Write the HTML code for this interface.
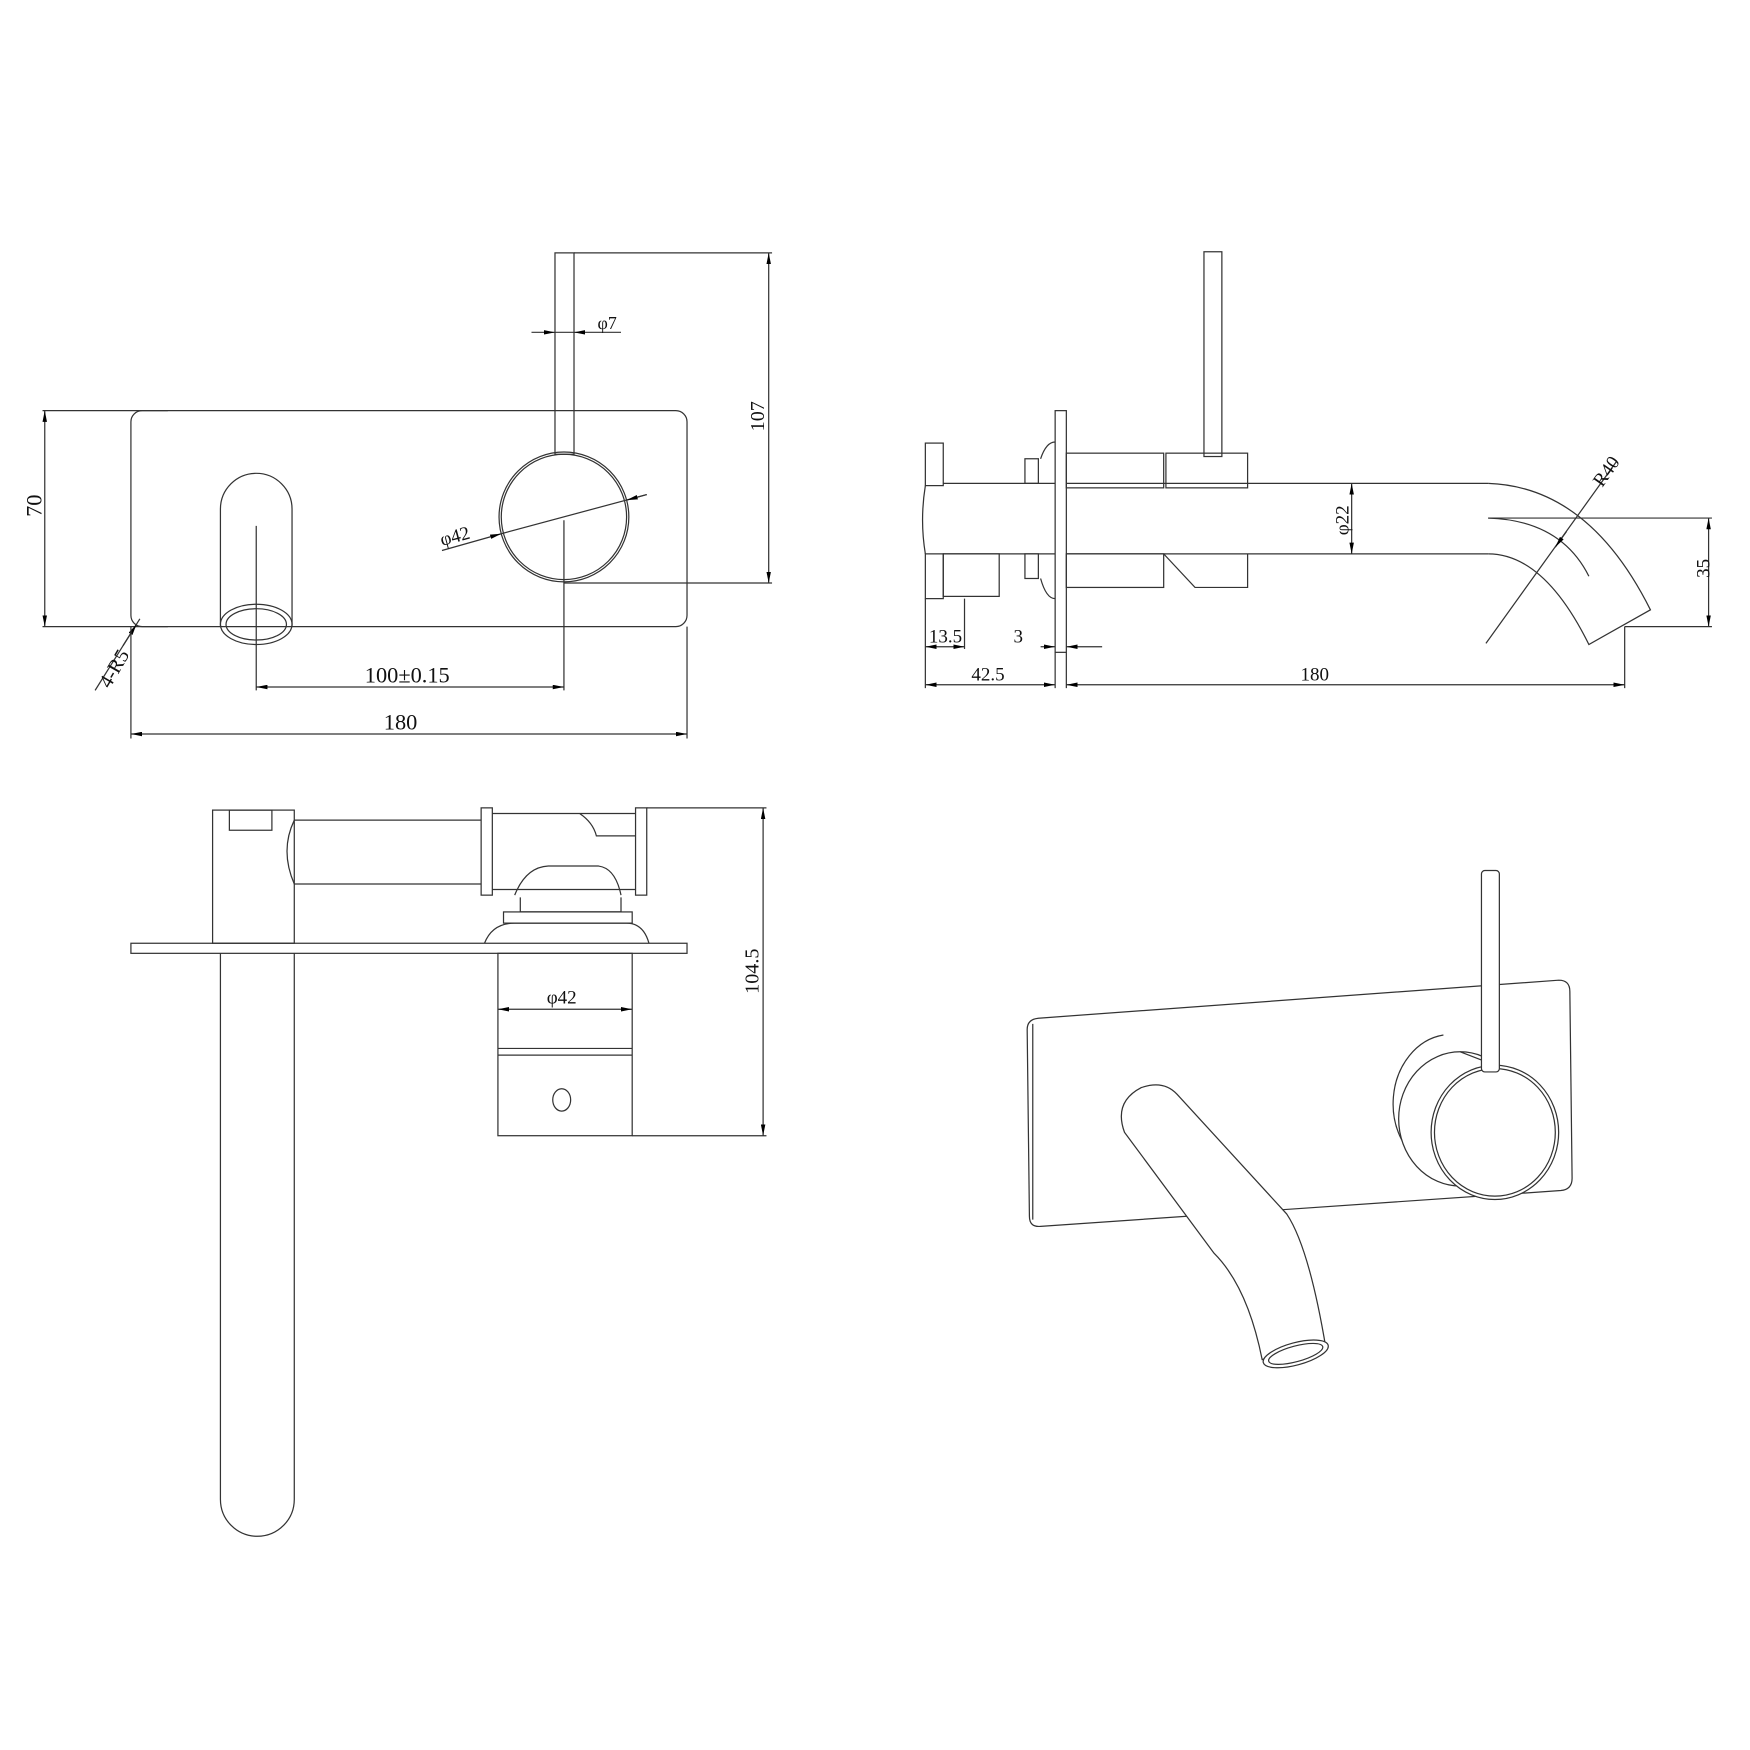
<!DOCTYPE html>
<html><head><meta charset="utf-8"><style>html,body{margin:0;padding:0;background:#fff}svg{display:block}</style></head><body>
<svg xmlns="http://www.w3.org/2000/svg" width="1750" height="1750" viewBox="0 0 1564 1564">
<defs>
<marker id="a" viewBox="0 0 10 4" refX="10" refY="2" markerWidth="10" markerHeight="4" orient="auto-start-reverse" markerUnits="userSpaceOnUse"><path d="M0,0L10,2L0,4z" fill="#000"/></marker>
</defs>
<g fill="none" stroke="#333" stroke-width="1.1" font-family="Liberation Serif, serif" font-size="17">
<!-- TOP LEFT FRONT VIEW -->
<rect x="117" y="367" width="497" height="193" rx="10"/>
<rect x="496" y="226" width="17" height="180"/>
<circle cx="504" cy="462" r="58"/><circle cx="504" cy="462" r="56"/>
<path d="M197,560 V455 A32,32 0 0 1 261,455 V560"/>
<ellipse cx="229" cy="558" rx="32" ry="18"/><ellipse cx="229" cy="558" rx="27" ry="14"/>
<line x1="229" y1="470" x2="229" y2="617"/>
<line x1="504" y1="465" x2="504" y2="617"/>
<line x1="38" y1="367" x2="150" y2="367"/><line x1="38" y1="560" x2="150" y2="560"/>
<line x1="40" y1="367" x2="40" y2="560" marker-start="url(#a)" marker-end="url(#a)"/>
<line x1="513" y1="226" x2="690" y2="226"/><line x1="504" y1="521" x2="690" y2="521"/>
<line x1="687" y1="226" x2="687" y2="521" marker-start="url(#a)" marker-end="url(#a)"/>
<line x1="475" y1="297" x2="496" y2="297" marker-end="url(#a)"/><line x1="555" y1="297" x2="513" y2="297" marker-end="url(#a)"/><line x1="496" y1="297" x2="513" y2="297"/>
<line x1="395" y1="492" x2="448" y2="477" marker-end="url(#a)"/><line x1="448" y1="477" x2="578" y2="442"/><line x1="578" y1="442" x2="560" y2="447" marker-end="url(#a)"/>
<line x1="85" y1="617" x2="125" y2="553" /><line x1="110" y1="577" x2="122" y2="558" marker-end="url(#a)"/>
<line x1="117" y1="560" x2="117" y2="660"/><line x1="614" y1="560" x2="614" y2="660"/>
<line x1="229" y1="614" x2="504" y2="614" marker-start="url(#a)" marker-end="url(#a)"/>
<line x1="117" y1="656" x2="614" y2="656" marker-start="url(#a)" marker-end="url(#a)"/>
<g fill="#111" stroke="none">
<text transform="translate(37,452) rotate(-90)" text-anchor="middle" font-size="20">70</text>
<text transform="translate(683,372) rotate(-90)" text-anchor="middle" font-size="18">107</text>
<text x="534" y="294" font-size="16">φ7</text>
<text transform="translate(395,488) rotate(-15)" font-size="17">φ42</text>
<text transform="translate(98,616) rotate(-60)" font-size="18">4-R5</text>
<text x="364" y="610" text-anchor="middle" font-size="20">100±0.15</text>
<text x="358" y="652" text-anchor="middle" font-size="20">180</text>
</g>
<!-- TOP RIGHT SIDE VIEW -->
<rect x="943" y="367" width="10" height="216"/>
<rect x="1076" y="225" width="16" height="183"/>
<rect x="953" y="405" width="87" height="31"/><rect x="1042" y="405" width="73" height="31"/>
<rect x="953" y="495" width="87" height="30"/>
<path d="M1040,495 L1068,525 H1115 V495"/>
<line x1="953" y1="432" x2="1330" y2="432"/><line x1="953" y1="495" x2="1330" y2="495"/>
<path d="M1330,432 Q1420,435 1475,545 L1420,576 Q1380,495 1330,495"/>
<path d="M1330,463 Q1395,465 1420,515"/>
<line x1="1328" y1="575" x2="1445" y2="412"/>
<line x1="1400" y1="475" x2="1390" y2="489" marker-end="url(#a)"/>
<line x1="1330" y1="463" x2="1530" y2="463"/><line x1="1452" y1="560" x2="1530" y2="560"/>
<line x1="1452" y1="560" x2="1452" y2="615"/>
<line x1="1527" y1="463" x2="1527" y2="560" marker-start="url(#a)" marker-end="url(#a)"/>
<line x1="1208" y1="432" x2="1208" y2="495" marker-start="url(#a)" marker-end="url(#a)"/>
<rect x="827" y="396" width="16" height="38"/><rect x="827" y="495" width="16" height="40"/>
<path d="M827,434 Q822,465 827,495"/>
<line x1="843" y1="432" x2="943" y2="432"/><line x1="843" y1="495" x2="943" y2="495"/>
<rect x="843" y="495" width="50" height="38"/>
<rect x="916" y="410" width="12" height="22"/><rect x="916" y="495" width="12" height="22"/>
<path d="M930,410 Q935,395 943,395 M930,517 Q935,535 943,535"/>
<line x1="827" y1="535" x2="827" y2="615"/><line x1="862" y1="535" x2="862" y2="580"/>
<line x1="943" y1="583" x2="943" y2="615"/><line x1="953" y1="583" x2="953" y2="615"/>
<line x1="827" y1="578" x2="862" y2="578" marker-start="url(#a)" marker-end="url(#a)"/>
<line x1="930" y1="578" x2="943" y2="578" marker-end="url(#a)"/><line x1="985" y1="578" x2="953" y2="578" marker-end="url(#a)"/>
<line x1="827" y1="612" x2="943" y2="612" marker-start="url(#a)" marker-end="url(#a)"/>
<line x1="953" y1="612" x2="1452" y2="612" marker-start="url(#a)" marker-end="url(#a)"/>
<g fill="#111" stroke="none">
<text transform="translate(1432,436) rotate(-55)" font-size="17">R40</text>
<text transform="translate(1528,508) rotate(-90)" text-anchor="middle" font-size="17">35</text>
<text transform="translate(1205,465) rotate(-90)" text-anchor="middle" font-size="17">φ22</text>
<text x="845" y="574" text-anchor="middle" font-size="17">13.5</text>
<text x="910" y="574" text-anchor="middle" font-size="17">3</text>
<text x="883" y="608" text-anchor="middle" font-size="17">42.5</text>
<text x="1175" y="608" text-anchor="middle" font-size="17">180</text>
</g>
<!-- BOTTOM LEFT TOP VIEW -->
<rect x="117" y="843" width="497" height="9"/>
<rect x="190" y="724" width="73" height="119"/><rect x="205" y="724" width="38" height="18"/>
<path d="M263,733 H430 M263,790 H430 M263,733 Q250,760 263,790"/>
<rect x="430" y="722" width="10" height="78"/><rect x="568" y="722" width="10" height="78"/>
<path d="M440,727 H568 M440,795 H568 M518,727 Q530,735 533,747 H568"/>
<path d="M460,800 Q470,775 490,774 H535 Q550,776 555,800 M465,802 V815 H555 V802"/>
<rect x="450" y="815" width="115" height="10"/>
<path d="M433,843 Q440,825 460,825 H560 Q575,825 580,843"/>
<path d="M197,852 V1340 A33,33 0 0 0 263,1340 V852"/>
<rect x="445" y="852" width="120" height="163"/>
<line x1="445" y1="937" x2="565" y2="937"/><line x1="445" y1="943" x2="565" y2="943"/>
<ellipse cx="502" cy="983" rx="8" ry="10"/>
<line x1="445" y1="902" x2="565" y2="902" marker-start="url(#a)" marker-end="url(#a)"/>
<line x1="578" y1="722" x2="685" y2="722"/><line x1="565" y1="1015" x2="685" y2="1015"/>
<line x1="682" y1="722" x2="682" y2="1015" marker-start="url(#a)" marker-end="url(#a)"/>
<g fill="#111" stroke="none">
<text x="502" y="897" text-anchor="middle" font-size="17">φ42</text>
<text transform="translate(678,868) rotate(-90)" text-anchor="middle" font-size="18">104.5</text>
</g>
<!-- ISO VIEW -->
<path d="M928,910 L1393,876 Q1403,876 1403,886 L1405,1053 Q1405,1063 1395,1064 L930,1096 Q920,1097 920,1087 L918,920 Q918,911 928,910 Z" fill="#fff"/>
<path d="M923,915 L923,1090"/>
<path d="M1290,925 A52,62 0 0 0 1280,1045" fill="#fff"/>
<ellipse cx="1305" cy="1000" rx="55" ry="60" fill="#fff"/>
<path d="M1305,940 L1336,952 M1305,1060 L1336,1072"/>
<ellipse cx="1336" cy="1012" rx="57" ry="60" fill="#fff"/>
<ellipse cx="1336" cy="1012" rx="54" ry="57"/>
<rect x="1324" y="778" width="16" height="180" rx="3" fill="#fff"/>
<path d="M1005,1012 Q995,985 1020,972 Q1040,965 1052,978 L1150,1085 Q1170,1115 1185,1205 L1128,1215 Q1115,1150 1085,1120 Z" fill="#fff"/>
<ellipse cx="1158" cy="1210" rx="30" ry="10" transform="rotate(-15 1158 1210)" fill="#fff"/>
<ellipse cx="1158" cy="1210" rx="25" ry="7" transform="rotate(-15 1158 1210)"/>
</g>
</svg>
</body></html>
